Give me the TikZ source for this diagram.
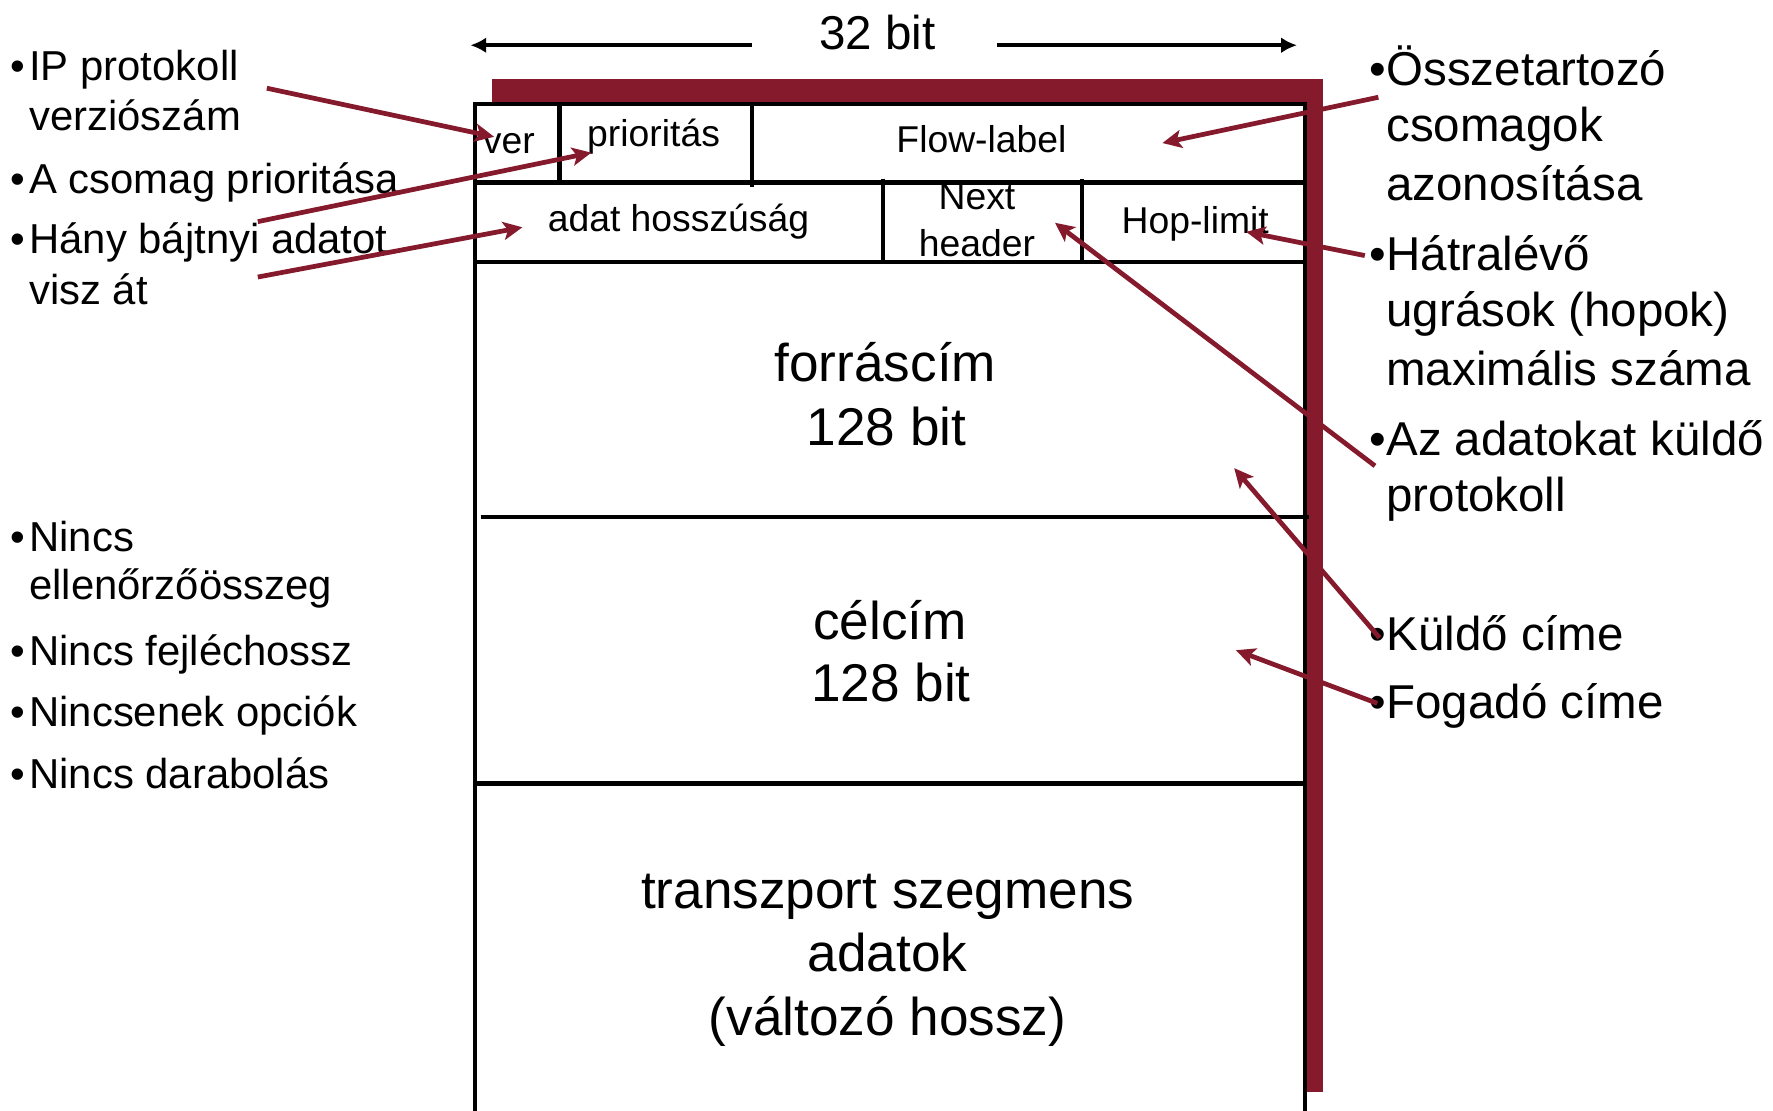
\documentclass[tikz,border=0pt]{standalone}
\usepackage{fontspec}
\setmainfont{Liberation Sans}
\usetikzlibrary{arrows.meta}
\definecolor{bordo}{RGB}{134,26,45}
\newcommand{\lbul}{•\hspace{1.8pt}}
\begin{document}
\begin{tikzpicture}[x=0.5pt,y=-0.5pt,
  lefttxt/.style={anchor=base west,inner sep=0pt,font=\fontsize{18.5pt}{22pt}\selectfont},
  righttxt/.style={anchor=base west,inner sep=0pt,font=\fontsize{21pt}{25pt}\selectfont},
  fieldtxt/.style={anchor=base,inner sep=0pt,font=\fontsize{16.5pt}{20pt}\selectfont},
  bigtxt/.style={anchor=base,inner sep=0pt,font=\fontsize{23.5pt}{28pt}\selectfont},
  frame/.style={line width=2pt},
  redarrow/.style={draw=bordo,line width=2.1pt,-{Stealth[length=8.5pt,width=8pt,inset=2pt]}},
  blackarrow/.style={line width=1.6pt,-{Latex[length=7pt,width=7pt]}}]
\useasboundingbox (0,0) rectangle (1568,982);
\clip (0,0) rectangle (1568,982);
% shadow and frame
\fill[bordo] (435,70) rectangle (1170,966);
\fill[white] (420,92) rectangle (1154,1000);
\draw[frame] (420,1000) -- (420,92) -- (1154,92) -- (1154,1000);
\draw[frame] (420,161.5) -- (1154,161.5);
\draw[frame] (420,231.5) -- (1154,231.5);
\draw[frame] (425,457) -- (1158,457);
\draw[frame] (420,693) -- (1154,693);
\draw[frame] (495,92) -- (495,161.5);
\draw[frame] (665,92) -- (665,165);
\draw[frame] (781,158) -- (781,231.5);
\draw[frame] (957,158) -- (957,231.5);
% width arrows
\node[anchor=base,inner sep=0pt,font=\fontsize{21pt}{25pt}\selectfont] (bits) at (776,44.2) {32 bit};
\coordinate (wl) at (665,40);
\coordinate (wlt) at (416,40);
\coordinate (wr) at (882,40);
\coordinate (wrt) at (1147,40);
\draw[blackarrow] (wl) -- (wlt);
\draw[blackarrow] (wr) -- (wrt);
% field texts
\node[fieldtxt] (ver) at (450,135.6) {ver};
\node[fieldtxt] (prior) at (578,129.7) {prioritás};
\node[fieldtxt] (flow) at (868,135) {Flow-label};
\node[fieldtxt] (len) at (600,204.9) {adat hosszúság};
\node[fieldtxt] (next1) at (864,185.7) {Next};
\node[fieldtxt] (next2) at (864,227) {header};
\node[fieldtxt] (hop) at (1057,206.3) {Hop-limit};
\node[bigtxt] (src1) at (783,337.6) {forráscím};
\node[bigtxt] (src2) at (784,394.4) {128 bit};
\node[bigtxt] (dst1) at (787,565.4) {célcím};
\node[bigtxt] (dst2) at (788,620.6) {128 bit};
\node[bigtxt] (pay1) at (785,803.3) {transzport szegmens};
\node[bigtxt] (pay2) at (785,859.4) {adatok};
\node[bigtxt] (pay3) at (785,915.4) {(változó hossz)};
% left texts
\node[lefttxt] (ip1) at (9,71.5) {\lbul IP protokoll};
\node[lefttxt] (ip2) at (9,115.6) {\hphantom{\lbul}verziószám};
\node[lefttxt] (prio) at (9,171) {\lbul A csomag prioritása};
\node[lefttxt] (hany1) at (9,224) {\lbul Hány bájtnyi adatot};
\node[lefttxt] (hany2) at (9,269.7) {\hphantom{\lbul}visz át};
\node[lefttxt] (n1) at (9,487.9) {\lbul Nincs};
\node[lefttxt] (n2) at (9,530.6) {\hphantom{\lbul}ellenőrzőösszeg};
\node[lefttxt] (n3) at (9,588.1) {\lbul Nincs fejléchossz};
\node[lefttxt] (n4) at (9,642.7) {\lbul Nincsenek opciók};
\node[lefttxt] (n5) at (9,697.2) {\lbul Nincs darabolás};
% right texts
\node[righttxt] (fl1) at (1211,75.2) {•Összetartozó};
\node[righttxt] (fl2) at (1211,125.3) {\hphantom{•}csomagok};
\node[righttxt] (fl3) at (1211,176.9) {\hphantom{•}azonosítása};
\node[righttxt] (hl1) at (1211,238.8) {•Hátralévő};
\node[righttxt] (hl2) at (1211,288.9) {\hphantom{•}ugrások (hopok)};
\node[righttxt] (hl3) at (1211,340.5) {\hphantom{•}maximális száma};
\node[righttxt] (nh1) at (1211,402.4) {•Az adatokat küldő};
\node[righttxt] (nh2) at (1211,452.5) {\hphantom{•}protokoll};
\node[righttxt] (kc) at (1211,574.9) {•Küldő címe};
\node[righttxt] (fc) at (1211,635.3) {•Fogadó címe};
% arrows
\coordinate (a1s) at (236,78);    \coordinate (a1e) at (437,121);
\coordinate (a2s) at (228,196);   \coordinate (a2e) at (523,135);
\coordinate (a3s) at (228,245);   \coordinate (a3e) at (462,201);
\coordinate (a4s) at (1219,86);   \coordinate (a4e) at (1028,126.5);
\coordinate (a5s) at (1207,226);  \coordinate (a5e) at (1102,205);
\coordinate (a6s) at (1216,412);  \coordinate (a6e) at (933,197);
\coordinate (a7s) at (1220,564);  \coordinate (a7e) at (1091.5,414);
\coordinate (a8s) at (1218,622);  \coordinate (a8e) at (1093,575);
\draw[redarrow] (a1s) -- (a1e);
\draw[redarrow] (a2s) -- (a2e);
\draw[redarrow] (a3s) -- (a3e);
\draw[redarrow] (a4s) -- (a4e);
\draw[redarrow] (a5s) -- (a5e);
\draw[redarrow] (a6s) -- (a6e);
\draw[redarrow] (a7s) -- (a7e);
\draw[redarrow] (a8s) -- (a8e);
\end{tikzpicture}
\end{document}
